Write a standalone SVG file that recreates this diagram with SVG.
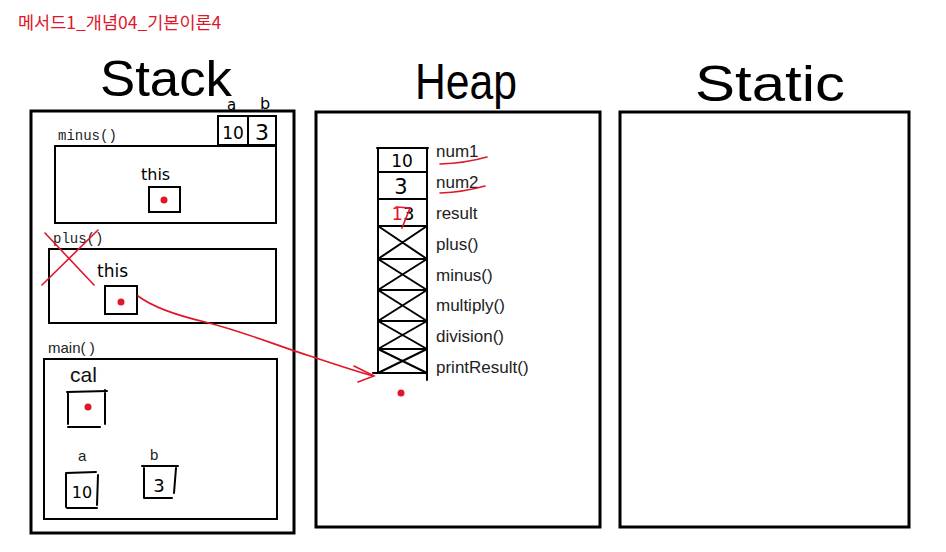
<svg xmlns="http://www.w3.org/2000/svg" width="946" height="552" viewBox="0 0 946 552">
<defs>
<style>
.box{fill:none;stroke:#000;stroke-width:3}
.frame{fill:none;stroke:#000;stroke-width:2}
.cell{fill:none;stroke:#000;stroke-width:2;stroke-linecap:round}
.red{fill:none;stroke:#e0162b;stroke-width:1.6;stroke-linecap:round}
.dot{fill:#e0162b}
.hand{font-family:"DejaVu Sans","Liberation Sans",sans-serif;fill:#000}
.big{font-family:"Liberation Sans",sans-serif;font-size:50px;fill:#000}
.mono{font-family:"Liberation Mono",monospace;font-size:14px;fill:#222}
.lbl{font-family:"Liberation Sans",sans-serif;font-size:17px;fill:#222}
.sm{font-family:"Liberation Sans",sans-serif;font-size:15px;fill:#222}
</style>
</defs>
<rect width="946" height="552" fill="#fff"/>
<text x="18" y="29" font-family="'Noto Sans CJK KR','Liberation Sans',sans-serif" font-size="17.5" fill="#e0162b">메서드1_개념04_기본이론4</text>

<g id="titles">
<text class="big" x="100" y="96" textLength="132" lengthAdjust="spacingAndGlyphs">Stack</text>
<text class="big" x="415" y="99" textLength="102" lengthAdjust="spacingAndGlyphs">Heap</text>
<text class="big" x="695" y="101" textLength="150" lengthAdjust="spacingAndGlyphs">Static</text>
</g>

<g id="stack">
<rect class="box" x="31" y="111" width="263" height="422"/>
<text class="hand" x="227" y="110" font-size="15">a</text>
<text class="hand" x="260" y="109" font-size="16">b</text>
<rect class="frame" x="218" y="116" width="30" height="29"/>
<rect class="frame" x="248" y="116" width="28" height="29"/>
<text class="hand" x="233" y="139" font-size="17" text-anchor="middle">10</text>
<text class="hand" x="262" y="140" font-size="22" text-anchor="middle">3</text>
</g>

<g id="minus">
<text class="mono" x="58" y="140">minus()</text>
<rect class="frame" x="55" y="146" width="221" height="77"/>
<text class="hand" x="141" y="180" font-size="16">this</text>
<rect class="frame" x="149" y="187" width="31" height="25"/>
<circle class="dot" cx="164" cy="200" r="3.5"/>
</g>

<g id="plus">
<text class="mono" x="53" y="243">plus()</text>
<rect class="frame" x="49" y="249" width="227" height="74"/>
<text class="hand" x="97" y="277" font-size="17">this</text>
<rect class="frame" x="105" y="286" width="32" height="28"/>
<circle class="dot" cx="121" cy="302" r="3.5"/>
<path class="red" d="M45 233 L94 285 M98 230 L42 285"/>
</g>

<g id="main">
<text class="sm" x="48" y="353" font-size="16">main( )</text>
<rect class="frame" x="44" y="359" width="233" height="160"/>
<text x="70" y="382" font-family="'Liberation Sans',sans-serif" font-size="21" fill="#111">cal</text>
<path class="cell" d="M67 392 L107 391 M68 392 L68 424 M105 390 L105 424 M68 427 L100 427"/>
<circle class="dot" cx="88" cy="407" r="3.5"/>
<text class="sm" x="78" y="461">a</text>
<path class="cell" d="M66 473 L96 472 M66 474 L66 507 M98 475 L97 505 M67 508 L97 508"/>
<text class="hand" x="82" y="498" font-size="16" text-anchor="middle">10</text>
<text class="sm" x="150" y="460">b</text>
<path class="cell" d="M142 466 L178 466 M144 468 L144 498 M176 468 L174 493 M144 498 L172 498"/>
<text class="hand" x="159" y="492" font-size="18" text-anchor="middle">3</text>
</g>

<g id="heap">
<rect class="box" x="316" y="112" width="284" height="415"/>
<path class="cell" d="M378 148 L378 373 M427 148 L427 380 M377 148 L428 148 M378 172 L427 172 M378 199 L427 199 M378 226 L427 226 M378 259 L427 259 M378 290 L427 290 M378 321 L427 321 M378 349 L427 349 M373 373 L427 373"/>
<path class="cell" d="M378 226 L427 259 M427 226 L378 259 M378 259 L427 290 M427 259 L378 290 M378 290 L427 321 M427 290 L378 321 M378 321 L427 349 M427 321 L378 349 M378 349 L427 373 M427 349 L378 373" stroke-width="1.6"/>
<text class="hand" x="402" y="167" font-size="17" text-anchor="middle">10</text>
<text class="hand" x="401" y="194" font-size="21" text-anchor="middle">3</text>
<text class="hand" x="403" y="220" font-size="18" text-anchor="middle"><tspan fill="#e0162b">1</tspan>3</text>
<path class="red" d="M396 207 L410 208 L402 228" stroke-width="2"/>
<text class="lbl" x="436" y="157">num1</text>
<text class="lbl" x="436" y="188">num2</text>
<text class="lbl" x="436" y="219">result</text>
<text class="lbl" x="436" y="250">plus()</text>
<text class="lbl" x="436" y="281">minus()</text>
<text class="lbl" x="436" y="311">multiply()</text>
<text class="lbl" x="436" y="342">division()</text>
<text class="lbl" x="436" y="373">printResult()</text>
<path class="red" d="M440 164 Q466 163 487 157 M440 193 Q464 192 485 186"/>
<circle class="dot" cx="401" cy="393" r="3.5"/>
</g>

<g id="static">
<rect class="box" x="620" y="112" width="289" height="415"/>
</g>

<g id="connectors">
<path class="red" d="M138 296 C150 305 175 315 205 322 C245 332 275 345 310 356 C340 366 355 371 373 376"/>
<path class="red" d="M354 366 L374 376 L358 382"/>
</g>
</svg>
